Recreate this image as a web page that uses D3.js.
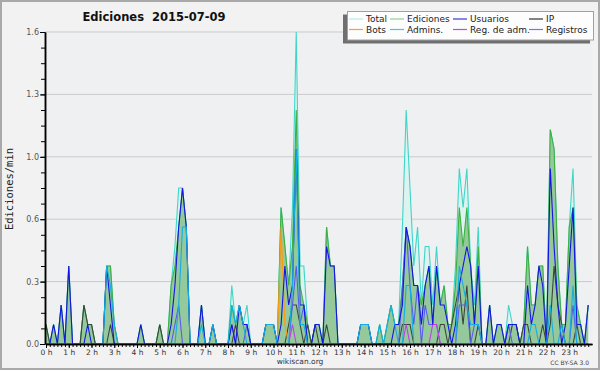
<!DOCTYPE html>
<html>
<head>
<meta charset="utf-8">
<script src="https://cdn.jsdelivr.net/npm/d3@7/dist/d3.min.js"></script>
<style>
  body { margin: 0; background: #fff; }
  svg { display: block; }
</style>
</head>
<body>
<div id="chart"></div>
<script>
// counts per 10-minute slot (144 slots = 24 h), shown as edits/min
const slots = d3.range(144);
const total = [
  1,0,1,0,2,0,4,0,0,0,2,1, 1,0,0,0,4,4,1,0,0,0,0,0,
  0,1,0,0,0,0,1,0,0,3,5,8, 8,6,0,0,0,2,0,0,1,0,0,0,
  0,3,1,2,1,2,0,0,0,0,1,1, 1,0,7,5,3,7,16,4,4,1,0,1,
  1,0,6,4,4,0,0,0,0,0,0,1, 1,1,0,0,1,0,1,2,1,1,6,12,
  8,4,6,2,5,5,2,5,2,3,1,1, 4,9,7,9,4,2,6,0,0,2,0,1,
  1,0,2,1,1,0,1,5,2,2,4,4, 0,11,10,4,1,1,6,9,2,1,0,2
];
const ediciones = [
  1,0,1,0,2,0,4,0,0,0,2,1, 1,0,0,0,4,4,1,0,0,0,0,0,
  0,1,0,0,0,0,1,0,0,3,4,6, 8,6,0,0,0,2,0,0,1,0,0,0,
  0,2,1,2,1,1,0,0,0,0,1,1, 1,0,7,5,3,5,12,3,2,1,0,1,
  1,0,6,4,4,0,0,0,0,0,0,1, 1,1,0,0,1,0,1,2,1,1,3,6,
  5,3,3,2,3,4,1,4,2,3,1,1, 3,7,5,7,4,1,5,0,0,2,0,1,
  1,0,1,1,1,0,1,5,2,2,4,4, 0,11,10,4,1,1,6,7,2,1,0,2
];
const usuarios = [
  0,0,1,0,2,0,4,0,0,0,0,1, 0,0,0,0,4,2,0,0,0,0,0,0,
  0,1,0,0,0,0,0,0,0,1,3,6, 8,6,0,0,0,2,0,0,1,0,0,0,
  0,1,0,2,1,1,0,0,0,0,1,1, 1,0,1,4,2,3,10,2,2,0,0,1,
  1,0,5,4,4,0,0,0,0,0,0,1, 1,1,0,0,0,0,0,0,1,1,2,6,
  5,3,3,1,3,4,1,4,2,2,1,0, 1,3,4,5,4,1,4,0,0,2,0,1,
  1,0,1,1,1,0,0,3,1,2,4,3, 0,9,5,2,0,1,4,7,1,1,0,2
];
const ip = [
  1,0,0,0,0,0,0,0,0,0,2,1, 1,0,0,0,0,1,0,0,0,0,0,0,
  0,0,0,0,0,0,1,0,0,0,0,0, 0,0,0,0,0,0,0,0,0,0,0,0,
  0,0,1,0,0,0,0,0,0,0,0,0, 0,0,0,0,1,2,2,1,0,1,0,1,
  0,0,1,0,0,0,0,0,0,0,0,0, 0,0,0,0,0,0,0,0,0,0,1,1,
  1,0,0,0,0,0,0,0,1,1,0,1, 2,3,1,3,0,0,1,0,0,0,0,0,
  0,0,0,1,1,0,1,1,0,0,0,1, 0,1,4,2,1,0,0,0,1,0,0,0
];
const bots = [
  0,0,0,0,0,0,0,0,0,0,0,0, 0,0,0,0,0,0,0,0,0,0,0,0,
  0,0,0,0,0,0,0,0,0,0,0,0, 0,0,0,0,0,0,0,0,0,0,0,0,
  0,0,0,0,0,0,0,0,0,0,0,0, 0,0,6,1,0,0,0,0,0,0,0,0,
  0,0,0,0,0,0,0,0,0,0,0,0, 0,0,0,0,0,0,0,0,0,0,0,0,
  0,0,0,0,0,0,0,0,0,0,0,0, 0,0,0,0,0,0,0,0,0,0,0,0,
  0,0,0,0,0,0,0,0,0,0,0,0, 0,0,0,0,0,0,0,0,0,0,0,0
];
const admins = [
  0,0,0,0,0,0,0,0,0,0,0,0, 0,0,0,0,4,3,1,0,0,0,0,0,
  0,0,0,0,0,0,0,0,0,0,0,2, 6,6,0,0,0,1,0,0,1,0,0,0,
  0,2,1,2,1,0,0,0,0,0,1,1, 1,0,0,0,0,3,10,1,1,0,0,0,
  0,0,0,0,0,0,0,0,0,0,0,1, 1,1,0,0,1,0,1,2,1,0,0,3,
  3,0,0,0,0,0,0,0,0,0,0,0, 0,4,3,2,1,1,1,0,0,0,0,0,
  0,0,0,0,0,0,0,0,1,1,0,0, 0,2,0,0,1,0,0,3,0,0,0,0
];
const regAdm = [
  0,0,0,0,0,0,0,0,0,0,0,0, 0,0,0,0,0,0,0,0,0,0,0,0,
  0,0,0,0,0,0,0,0,0,0,0,0, 0,0,0,0,0,0,0,0,0,0,0,0,
  0,0,0,0,0,0,0,0,0,0,0,0, 0,0,0,0,0,1,0,0,0,0,0,0,
  0,0,0,0,0,0,0,0,0,0,0,0, 0,0,0,0,0,0,0,0,0,0,0,1,
  0,0,0,0,0,0,1,1,0,0,0,0, 0,0,0,0,0,0,0,0,0,0,0,0,
  0,0,0,0,0,0,0,0,0,0,0,0, 0,0,0,0,0,0,0,0,0,0,0,0
];
const registros = [
  0,0,0,0,0,0,0,0,0,0,0,0, 0,0,0,0,0,0,0,0,0,0,0,0,
  0,0,0,0,0,0,0,0,0,0,1,2, 0,0,0,0,0,0,0,0,0,0,0,0,
  0,1,0,0,0,1,0,0,0,0,0,0, 0,0,0,0,0,2,4,1,2,0,0,0,
  0,0,0,0,0,0,0,0,0,0,0,0, 0,0,0,0,0,0,0,0,0,0,3,6,
  3,1,3,0,2,1,1,1,0,0,0,0, 0,2,2,2,0,1,1,0,0,0,0,0,
  0,0,1,0,0,0,0,0,0,0,0,0, 0,0,0,0,0,0,0,2,0,0,0,0
];

const hours = d3.range(24);
const yTickValues = [0, 0.32, 0.64, 0.96, 1.28, 1.6];
const yTickLabels = ["0.0", "0.3", "0.6", "1.0", "1.3", "1.6"];

const legendNames = ["Total", "Ediciones", "Usuarios", "IP", "Bots", "Admins.", "Reg. de adm.", "Registros"];
const legendColors = ["#b4ecea", "#8fd08f", "#3a3ad6", "#333333", "#f5a030", "#45c8dc", "#cc44dd", "#7676ee"];

const W = 600, H = 370;
const svg = d3.select("#chart").append("svg").attr("width", W).attr("height", H);

svg.append("rect").attr("x", 1).attr("y", 1).attr("width", W - 2).attr("height", H - 2)
  .attr("fill", "#f2f2f2").attr("stroke", "#a9a9a9").attr("stroke-width", 2);

const x = d3.scaleLinear().domain([0, 24]).range([46, 592]);
const y = d3.scaleLinear().domain([0, 1.6]).range([344, 32]);
const xs = (i) => x(i / 6);

svg.append("rect").attr("x", 45).attr("y", 32).attr("width", 547).attr("height", 312).attr("fill", "#eef0f2");

// grid
svg.append("g").selectAll("line").data(yTickValues.slice(1)).enter().append("line")
  .attr("x1", 45).attr("x2", 592).attr("y1", (d) => y(d)).attr("y2", (d) => y(d))
  .attr("stroke", "#cbcbcb").attr("stroke-width", 1);

function area(arr) {
  return d3.area().x((d) => xs(d)).y0(y(0)).y1((d) => y(arr[d] / 10))(slots);
}
function line(arr) {
  return d3.line().x((d) => xs(d)).y((d) => y(arr[d] / 10))(slots);
}

svg.append("path").attr("d", area(total)).attr("fill", "#dcf3f0");
svg.append("path").attr("d", line(total)).attr("fill", "none").attr("stroke", "#3fd6c8").attr("stroke-width", 1.1);
svg.append("path").attr("d", area(ediciones)).attr("fill", "#95c99b");
svg.append("path").attr("d", line(ediciones)).attr("fill", "none").attr("stroke", "#3cb043").attr("stroke-width", 1.1);

const series = [
  [ip, "#3c463c"],
  [registros, "#5a5af0"],
  [regAdm, "#c040e0"],
  [bots, "#ff9a10"],
  [usuarios, "#1414e6"],
  [admins, "#14aee0"],
];
series.forEach((s) => {
  svg.append("path").attr("d", line(s[0])).attr("fill", "none")
    .attr("stroke", s[1]).attr("stroke-width", 1.1);
});

// axes
const yAxis = svg.append("g").attr("transform", "translate(45,0)")
  .call(d3.axisLeft(y).tickValues(yTickValues).tickFormat((d, i) => yTickLabels[i]).tickSize(5).tickSizeOuter(0).tickPadding(1));
svg.append("g").attr("transform", "translate(45,0)")
  .call(d3.axisLeft(y).tickValues(d3.range(0, 1.61, 0.08)).tickFormat("").tickSize(4).tickSizeOuter(0));

const xAxis = svg.append("g").attr("transform", "translate(0,344)")
  .call(d3.axisBottom(x).tickValues(hours).tickFormat((d) => d + " h").tickSize(4).tickSizeOuter(0).tickPadding(2));
svg.append("g").attr("transform", "translate(0,344)")
  .call(d3.axisBottom(x).tickValues(d3.range(0, 24, 1 / 6)).tickFormat("").tickSize(3).tickSizeOuter(0));

svg.selectAll(".domain").attr("stroke", "#000").attr("stroke-width", 1.5);
svg.selectAll(".tick line").attr("stroke", "#000");
yAxis.selectAll("text").attr("font-family", "DejaVu Sans").attr("font-size", 8).attr("fill", "#555");
xAxis.selectAll("text").attr("font-family", "DejaVu Sans").attr("font-size", 7.5).attr("fill", "#333");

// texts
svg.append("text").attr("x", 154).attr("y", 21).attr("text-anchor", "middle")
  .attr("font-family", "DejaVu Sans").attr("font-weight", "bold").attr("font-size", 11.5)
  .attr("fill", "#111").text("Ediciones  2015-07-09").style("white-space", "pre");
svg.append("text").attr("transform", "translate(13,189) rotate(-90)").attr("text-anchor", "middle")
  .attr("font-family", "DejaVu Sans Mono").attr("font-size", 10.5).attr("fill", "#222").text("Ediciones/min");
svg.append("text").attr("x", 300).attr("y", 364).attr("text-anchor", "middle")
  .attr("font-family", "DejaVu Sans").attr("font-size", 7.5).attr("fill", "#333").text("wikiscan.org");
svg.append("text").attr("x", 589).attr("y", 365).attr("text-anchor", "end")
  .attr("font-family", "DejaVu Sans").attr("font-size", 6).attr("fill", "#444").text("CC BY-SA 3.0");

// legend
svg.append("rect").attr("x", 343).attr("y", 14.5).attr("width", 247).attr("height", 29).attr("fill", "#6f6f6f");
svg.append("rect").attr("x", 347.5).attr("y", 11.5).attr("width", 246).attr("height", 28.5)
  .attr("fill", "#fdfdfd").attr("stroke", "#a0a0a0");
const colX = [349, 390, 453, 529];
const rowY = [19, 29.5];
legendNames.forEach((name, i) => {
  const cx = colX[i % 4], cy = rowY[Math.floor(i / 4)];
  svg.append("line").attr("x1", cx).attr("x2", cx + 14).attr("y1", cy).attr("y2", cy)
    .attr("stroke", legendColors[i]).attr("stroke-width", 1.2);
  svg.append("text").attr("x", cx + 17).attr("y", cy + 3.3)
    .attr("font-family", "DejaVu Sans").attr("font-size", 9).attr("fill", "#222").text(name);
});
</script>
</body>
</html>
